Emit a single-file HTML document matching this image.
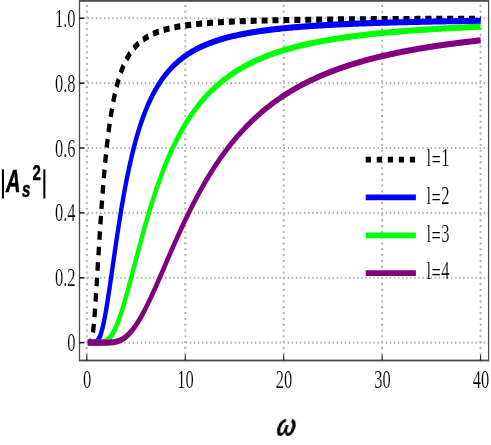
<!DOCTYPE html>
<html><head><meta charset="utf-8"><title>plot</title>
<style>html,body{margin:0;padding:0;background:#fff;}body{width:491px;height:445px;overflow:hidden;}svg{display:block;}text{font-family:"Liberation Serif",serif;fill:#000;}.sb{font-family:"Liberation Sans",sans-serif;font-weight:bold;}.sbi{font-family:"Liberation Sans",sans-serif;font-weight:bold;font-style:italic;}</style></head><body>
<svg width="491" height="445" viewBox="0 0 491 445">
<defs><filter id="ga" x="-0.05" y="-0.05" width="1.1" height="1.1" filterUnits="objectBoundingBox"><feOffset dx="0" dy="0"/></filter></defs>
<rect x="0" y="0" width="491" height="445" fill="#fff"/>
<g transform="scale(1,1.4200)">
<g stroke="#b3b3b3" stroke-dasharray="1.450 2.632" fill="none"><g stroke-width="2.00" stroke-dashoffset="0.00"><line x1="86.85" y1="253.87" x2="86.85" y2="0.60"/><line x1="185.29" y1="253.87" x2="185.29" y2="0.60"/><line x1="283.73" y1="253.87" x2="283.73" y2="0.60"/><line x1="382.16" y1="253.87" x2="382.16" y2="0.60"/><line x1="480.60" y1="253.87" x2="480.60" y2="0.60"/></g><g stroke-width="1.45" stroke-dashoffset="0.00"><line x1="79.50" y1="241.30" x2="488.60" y2="241.30"/><line x1="79.50" y1="195.62" x2="488.60" y2="195.62"/><line x1="79.50" y1="149.93" x2="488.60" y2="149.93"/><line x1="79.50" y1="104.24" x2="488.60" y2="104.24"/><line x1="79.50" y1="58.55" x2="488.60" y2="58.55"/><line x1="79.50" y1="12.87" x2="488.60" y2="12.87"/></g></g>
<path d="M87.83 241.30 L88.82 241.30 L89.80 241.26 L90.78 240.81 L91.76 239.08 L92.74 235.29 L93.73 229.17 L94.71 220.95 L95.69 211.12 L96.67 200.27 L97.65 188.94 L98.64 177.56 L99.62 166.43 L100.60 155.77 L101.58 145.71 L102.56 136.30 L103.54 127.58 L104.53 119.53 L105.51 112.12 L106.49 105.33 L107.47 99.10 L108.45 93.40 L109.44 88.18 L110.42 83.39 L111.40 79.00 L112.38 74.98 L113.36 71.28 L114.35 67.88 L115.33 64.74 L116.31 61.85 L117.29 59.18 L118.27 56.71 L119.26 54.43 L120.24 52.30 L121.22 50.34 L122.20 48.50 L123.18 46.80 L124.17 45.21 L125.15 43.72 L126.13 42.33 L127.11 41.03 L128.09 39.81 L129.07 38.67 L130.06 37.60 L131.04 36.59 L132.02 35.64 L133.00 34.74 L133.98 33.89 L134.97 33.10 L135.95 32.34 L136.93 31.63 L137.91 30.95 L138.89 30.31 L139.88 29.70 L140.86 29.12 L141.84 28.58 L142.82 28.05 L143.80 27.56 L144.79 27.08 L145.77 26.63 L146.75 26.20 L147.73 25.79 L148.71 25.40 L149.69 25.03 L150.68 24.67 L151.66 24.33 L152.64 24.00 L153.62 23.68 L154.60 23.38 L155.59 23.09 L156.57 22.81 L157.55 22.55 L158.53 22.29 L159.51 22.05 L160.50 21.81 L161.48 21.58 L162.46 21.36 L163.44 21.15 L164.42 20.95 L165.41 20.75 L166.39 20.56 L167.37 20.38 L168.35 20.20 L169.33 20.03 L170.32 19.87 L171.30 19.71 L172.28 19.56 L173.26 19.41 L174.24 19.27 L175.22 19.13 L176.21 18.99 L177.19 18.86 L178.17 18.74 L179.15 18.61 L180.13 18.50 L181.12 18.38 L182.10 18.27 L183.08 18.16 L184.06 18.06 L185.04 17.95 L186.03 17.86 L187.01 17.76 L187.99 17.67 L188.97 17.58 L189.95 17.49 L190.94 17.40 L191.92 17.32 L192.90 17.24 L193.88 17.16 L194.86 17.08 L195.84 17.01 L196.83 16.94 L197.81 16.86 L198.79 16.80 L199.77 16.73 L200.75 16.66 L201.74 16.60 L202.72 16.54 L203.70 16.48 L204.68 16.42 L205.66 16.36 L206.65 16.30 L207.63 16.25 L208.61 16.19 L209.59 16.14 L210.57 16.09 L211.56 16.04 L212.54 15.99 L213.52 15.94 L214.50 15.90 L215.48 15.85 L216.47 15.81 L217.45 15.76 L218.43 15.72 L219.41 15.68 L220.39 15.64 L221.37 15.60 L222.36 15.56 L223.34 15.52 L224.32 15.48 L225.30 15.44 L226.28 15.41 L227.27 15.37 L228.25 15.34 L229.23 15.31 L230.21 15.27 L231.19 15.24 L232.18 15.21 L233.16 15.18 L234.14 15.15 L235.12 15.12 L236.10 15.09 L237.09 15.06 L238.07 15.03 L239.05 15.00 L240.03 14.98 L241.01 14.95 L241.99 14.92 L242.98 14.90 L243.96 14.87 L244.94 14.85 L245.92 14.82 L246.90 14.80 L247.89 14.78 L248.87 14.75 L249.85 14.73 L250.83 14.71 L251.81 14.69 L252.80 14.67 L253.78 14.64 L254.76 14.62 L255.74 14.60 L256.72 14.58 L257.71 14.56 L258.69 14.54 L259.67 14.53 L260.65 14.51 L261.63 14.49 L262.62 14.47 L263.60 14.45 L264.58 14.44 L265.56 14.42 L266.54 14.40 L267.52 14.39 L268.51 14.37 L269.49 14.35 L270.47 14.34 L271.45 14.32 L272.43 14.31 L273.42 14.29 L274.40 14.28 L275.38 14.26 L276.36 14.25 L277.34 14.23 L278.33 14.22 L279.31 14.21 L280.29 14.19 L281.27 14.18 L282.25 14.17 L283.24 14.15 L284.22 14.14 L285.20 14.13 L286.18 14.12 L287.16 14.10 L288.14 14.09 L289.13 14.08 L290.11 14.07 L291.09 14.06 L292.07 14.04 L293.05 14.03 L294.04 14.02 L295.02 14.01 L296.00 14.00 L296.98 13.99 L297.96 13.98 L298.95 13.97 L299.93 13.96 L300.91 13.95 L301.89 13.94 L302.87 13.93 L303.86 13.92 L304.84 13.91 L305.82 13.90 L306.80 13.89 L307.78 13.88 L308.77 13.87 L309.75 13.87 L310.73 13.86 L311.71 13.85 L312.69 13.84 L313.67 13.83 L314.66 13.82 L315.64 13.82 L316.62 13.81 L317.60 13.80 L318.58 13.79 L319.57 13.78 L320.55 13.78 L321.53 13.77 L322.51 13.76 L323.49 13.75 L324.48 13.75 L325.46 13.74 L326.44 13.73 L327.42 13.72 L328.40 13.72 L329.39 13.71 L330.37 13.70 L331.35 13.70 L332.33 13.69 L333.31 13.68 L334.29 13.68 L335.28 13.67 L336.26 13.66 L337.24 13.66 L338.22 13.65 L339.20 13.65 L340.19 13.64 L341.17 13.63 L342.15 13.63 L343.13 13.62 L344.11 13.62 L345.10 13.61 L346.08 13.61 L347.06 13.60 L348.04 13.59 L349.02 13.59 L350.01 13.58 L350.99 13.58 L351.97 13.57 L352.95 13.57 L353.93 13.56 L354.91 13.56 L355.90 13.55 L356.88 13.55 L357.86 13.54 L358.84 13.54 L359.82 13.53 L360.81 13.53 L361.79 13.52 L362.77 13.52 L363.75 13.51 L364.73 13.51 L365.72 13.51 L366.70 13.50 L367.68 13.50 L368.66 13.49 L369.64 13.49 L370.63 13.48 L371.61 13.48 L372.59 13.48 L373.57 13.47 L374.55 13.47 L375.54 13.46 L376.52 13.46 L377.50 13.45 L378.48 13.45 L379.46 13.45 L380.44 13.44 L381.43 13.44 L382.41 13.44 L383.39 13.43 L384.37 13.43 L385.35 13.42 L386.34 13.42 L387.32 13.42 L388.30 13.41 L389.28 13.41 L390.26 13.41 L391.25 13.40 L392.23 13.40 L393.21 13.40 L394.19 13.39 L395.17 13.39 L396.16 13.39 L397.14 13.38 L398.12 13.38 L399.10 13.38 L400.08 13.37 L401.06 13.37 L402.05 13.37 L403.03 13.36 L404.01 13.36 L404.99 13.36 L405.97 13.35 L406.96 13.35 L407.94 13.35 L408.92 13.35 L409.90 13.34 L410.88 13.34 L411.87 13.34 L412.85 13.33 L413.83 13.33 L414.81 13.33 L415.79 13.33 L416.78 13.32 L417.76 13.32 L418.74 13.32 L419.72 13.32 L420.70 13.31 L421.69 13.31 L422.67 13.31 L423.65 13.30 L424.63 13.30 L425.61 13.30 L426.59 13.30 L427.58 13.29 L428.56 13.29 L429.54 13.29 L430.52 13.29 L431.50 13.28 L432.49 13.28 L433.47 13.28 L434.45 13.28 L435.43 13.28 L436.41 13.27 L437.40 13.27 L438.38 13.27 L439.36 13.27 L440.34 13.26 L441.32 13.26 L442.31 13.26 L443.29 13.26 L444.27 13.26 L445.25 13.25 L446.23 13.25 L447.21 13.25 L448.20 13.25 L449.18 13.25 L450.16 13.24 L451.14 13.24 L452.12 13.24 L453.11 13.24 L454.09 13.24 L455.07 13.23 L456.05 13.23 L457.03 13.23 L458.02 13.23 L459.00 13.23 L459.98 13.22 L460.96 13.22 L461.94 13.22 L462.93 13.22 L463.91 13.22 L464.89 13.21 L465.87 13.21 L466.85 13.21 L467.84 13.21 L468.82 13.21 L469.80 13.21 L470.78 13.20 L471.76 13.20 L472.74 13.20 L473.73 13.20 L474.71 13.20 L475.69 13.20 L476.67 13.19 L477.65 13.19 L478.64 13.19 L479.62 13.19 L480.60 13.19" fill="none" stroke="#000000" stroke-width="4.30" stroke-linejoin="round" stroke-dasharray="6.000 4.920" stroke-dashoffset="0.750"/>
<path d="M87.83 241.30 L88.82 241.30 L89.80 241.30 L90.78 241.30 L91.76 241.30 L92.74 241.30 L93.73 241.27 L94.71 241.18 L95.69 240.97 L96.67 240.56 L97.65 239.89 L98.64 238.89 L99.62 237.50 L100.60 235.71 L101.58 233.49 L102.56 230.86 L103.54 227.82 L104.53 224.43 L105.51 220.71 L106.49 216.70 L107.47 212.45 L108.45 208.01 L109.44 203.42 L110.42 198.71 L111.40 193.94 L112.38 189.12 L113.36 184.30 L114.35 179.49 L115.33 174.72 L116.31 170.01 L117.29 165.37 L118.27 160.82 L119.26 156.37 L120.24 152.03 L121.22 147.79 L122.20 143.68 L123.18 139.68 L124.17 135.81 L125.15 132.05 L126.13 128.42 L127.11 124.91 L128.09 121.52 L129.07 118.24 L130.06 115.08 L131.04 112.03 L132.02 109.09 L133.00 106.26 L133.98 103.53 L134.97 100.90 L135.95 98.36 L136.93 95.92 L137.91 93.56 L138.89 91.29 L139.88 89.11 L140.86 87.00 L141.84 84.97 L142.82 83.01 L143.80 81.13 L144.79 79.31 L145.77 77.55 L146.75 75.86 L147.73 74.23 L148.71 72.65 L149.69 71.13 L150.68 69.67 L151.66 68.25 L152.64 66.88 L153.62 65.56 L154.60 64.28 L155.59 63.05 L156.57 61.85 L157.55 60.70 L158.53 59.58 L159.51 58.51 L160.50 57.46 L161.48 56.45 L162.46 55.47 L163.44 54.52 L164.42 53.60 L165.41 52.71 L166.39 51.85 L167.37 51.02 L168.35 50.20 L169.33 49.42 L170.32 48.66 L171.30 47.92 L172.28 47.20 L173.26 46.50 L174.24 45.82 L175.22 45.17 L176.21 44.53 L177.19 43.91 L178.17 43.30 L179.15 42.72 L180.13 42.15 L181.12 41.59 L182.10 41.05 L183.08 40.53 L184.06 40.02 L185.04 39.52 L186.03 39.04 L187.01 38.56 L187.99 38.10 L188.97 37.66 L189.95 37.22 L190.94 36.80 L191.92 36.38 L192.90 35.98 L193.88 35.59 L194.86 35.20 L195.84 34.83 L196.83 34.46 L197.81 34.11 L198.79 33.76 L199.77 33.42 L200.75 33.09 L201.74 32.76 L202.72 32.45 L203.70 32.14 L204.68 31.84 L205.66 31.54 L206.65 31.25 L207.63 30.97 L208.61 30.70 L209.59 30.43 L210.57 30.16 L211.56 29.91 L212.54 29.65 L213.52 29.41 L214.50 29.17 L215.48 28.93 L216.47 28.70 L217.45 28.47 L218.43 28.25 L219.41 28.03 L220.39 27.82 L221.37 27.61 L222.36 27.41 L223.34 27.21 L224.32 27.01 L225.30 26.82 L226.28 26.63 L227.27 26.45 L228.25 26.27 L229.23 26.09 L230.21 25.92 L231.19 25.75 L232.18 25.58 L233.16 25.42 L234.14 25.26 L235.12 25.10 L236.10 24.94 L237.09 24.79 L238.07 24.64 L239.05 24.50 L240.03 24.35 L241.01 24.21 L241.99 24.07 L242.98 23.94 L243.96 23.81 L244.94 23.67 L245.92 23.55 L246.90 23.42 L247.89 23.29 L248.87 23.17 L249.85 23.05 L250.83 22.93 L251.81 22.82 L252.80 22.70 L253.78 22.59 L254.76 22.48 L255.74 22.37 L256.72 22.27 L257.71 22.16 L258.69 22.06 L259.67 21.96 L260.65 21.86 L261.63 21.76 L262.62 21.66 L263.60 21.57 L264.58 21.47 L265.56 21.38 L266.54 21.29 L267.52 21.20 L268.51 21.12 L269.49 21.03 L270.47 20.94 L271.45 20.86 L272.43 20.78 L273.42 20.70 L274.40 20.62 L275.38 20.54 L276.36 20.46 L277.34 20.38 L278.33 20.31 L279.31 20.24 L280.29 20.16 L281.27 20.09 L282.25 20.02 L283.24 19.95 L284.22 19.88 L285.20 19.81 L286.18 19.75 L287.16 19.68 L288.14 19.61 L289.13 19.55 L290.11 19.49 L291.09 19.43 L292.07 19.36 L293.05 19.30 L294.04 19.24 L295.02 19.18 L296.00 19.13 L296.98 19.07 L297.96 19.01 L298.95 18.96 L299.93 18.90 L300.91 18.85 L301.89 18.79 L302.87 18.74 L303.86 18.69 L304.84 18.64 L305.82 18.59 L306.80 18.54 L307.78 18.49 L308.77 18.44 L309.75 18.39 L310.73 18.34 L311.71 18.30 L312.69 18.25 L313.67 18.20 L314.66 18.16 L315.64 18.11 L316.62 18.07 L317.60 18.03 L318.58 17.98 L319.57 17.94 L320.55 17.90 L321.53 17.86 L322.51 17.82 L323.49 17.78 L324.48 17.74 L325.46 17.70 L326.44 17.66 L327.42 17.62 L328.40 17.58 L329.39 17.54 L330.37 17.51 L331.35 17.47 L332.33 17.43 L333.31 17.40 L334.29 17.36 L335.28 17.33 L336.26 17.29 L337.24 17.26 L338.22 17.22 L339.20 17.19 L340.19 17.16 L341.17 17.13 L342.15 17.09 L343.13 17.06 L344.11 17.03 L345.10 17.00 L346.08 16.97 L347.06 16.94 L348.04 16.91 L349.02 16.88 L350.01 16.85 L350.99 16.82 L351.97 16.79 L352.95 16.76 L353.93 16.73 L354.91 16.70 L355.90 16.68 L356.88 16.65 L357.86 16.62 L358.84 16.60 L359.82 16.57 L360.81 16.54 L361.79 16.52 L362.77 16.49 L363.75 16.47 L364.73 16.44 L365.72 16.42 L366.70 16.39 L367.68 16.37 L368.66 16.34 L369.64 16.32 L370.63 16.30 L371.61 16.27 L372.59 16.25 L373.57 16.23 L374.55 16.20 L375.54 16.18 L376.52 16.16 L377.50 16.14 L378.48 16.12 L379.46 16.09 L380.44 16.07 L381.43 16.05 L382.41 16.03 L383.39 16.01 L384.37 15.99 L385.35 15.97 L386.34 15.95 L387.32 15.93 L388.30 15.91 L389.28 15.89 L390.26 15.87 L391.25 15.85 L392.23 15.83 L393.21 15.81 L394.19 15.79 L395.17 15.78 L396.16 15.76 L397.14 15.74 L398.12 15.72 L399.10 15.70 L400.08 15.69 L401.06 15.67 L402.05 15.65 L403.03 15.63 L404.01 15.62 L404.99 15.60 L405.97 15.58 L406.96 15.57 L407.94 15.55 L408.92 15.53 L409.90 15.52 L410.88 15.50 L411.87 15.49 L412.85 15.47 L413.83 15.46 L414.81 15.44 L415.79 15.43 L416.78 15.41 L417.76 15.39 L418.74 15.38 L419.72 15.37 L420.70 15.35 L421.69 15.34 L422.67 15.32 L423.65 15.31 L424.63 15.29 L425.61 15.28 L426.59 15.27 L427.58 15.25 L428.56 15.24 L429.54 15.23 L430.52 15.21 L431.50 15.20 L432.49 15.19 L433.47 15.17 L434.45 15.16 L435.43 15.15 L436.41 15.13 L437.40 15.12 L438.38 15.11 L439.36 15.10 L440.34 15.08 L441.32 15.07 L442.31 15.06 L443.29 15.05 L444.27 15.04 L445.25 15.02 L446.23 15.01 L447.21 15.00 L448.20 14.99 L449.18 14.98 L450.16 14.97 L451.14 14.96 L452.12 14.94 L453.11 14.93 L454.09 14.92 L455.07 14.91 L456.05 14.90 L457.03 14.89 L458.02 14.88 L459.00 14.87 L459.98 14.86 L460.96 14.85 L461.94 14.84 L462.93 14.83 L463.91 14.82 L464.89 14.81 L465.87 14.80 L466.85 14.79 L467.84 14.78 L468.82 14.77 L469.80 14.76 L470.78 14.75 L471.76 14.74 L472.74 14.73 L473.73 14.72 L474.71 14.71 L475.69 14.70 L476.67 14.69 L477.65 14.68 L478.64 14.67 L479.62 14.66 L480.60 14.66" fill="none" stroke="#0000ff" stroke-width="4.30" stroke-linejoin="round"/>
<path d="M87.83 241.30 L88.82 241.30 L89.80 241.30 L90.78 241.30 L91.76 241.30 L92.74 241.30 L93.73 241.30 L94.71 241.30 L95.69 241.30 L96.67 241.30 L97.65 241.30 L98.64 241.29 L99.62 241.26 L100.60 241.22 L101.58 241.15 L102.56 241.04 L103.54 240.87 L104.53 240.65 L105.51 240.34 L106.49 239.95 L107.47 239.47 L108.45 238.87 L109.44 238.16 L110.42 237.33 L111.40 236.38 L112.38 235.30 L113.36 234.10 L114.35 232.76 L115.33 231.31 L116.31 229.74 L117.29 228.05 L118.27 226.25 L119.26 224.35 L120.24 222.35 L121.22 220.26 L122.20 218.09 L123.18 215.84 L124.17 213.52 L125.15 211.14 L126.13 208.71 L127.11 206.23 L128.09 203.71 L129.07 201.15 L130.06 198.57 L131.04 195.97 L132.02 193.35 L133.00 190.72 L133.98 188.09 L134.97 185.45 L135.95 182.82 L136.93 180.19 L137.91 177.58 L138.89 174.98 L139.88 172.40 L140.86 169.83 L141.84 167.29 L142.82 164.78 L143.80 162.29 L144.79 159.83 L145.77 157.39 L146.75 154.99 L147.73 152.63 L148.71 150.29 L149.69 147.99 L150.68 145.73 L151.66 143.49 L152.64 141.30 L153.62 139.14 L154.60 137.02 L155.59 134.93 L156.57 132.88 L157.55 130.87 L158.53 128.89 L159.51 126.95 L160.50 125.05 L161.48 123.18 L162.46 121.34 L163.44 119.54 L164.42 117.78 L165.41 116.05 L166.39 114.35 L167.37 112.68 L168.35 111.05 L169.33 109.45 L170.32 107.89 L171.30 106.35 L172.28 104.84 L173.26 103.37 L174.24 101.92 L175.22 100.50 L176.21 99.12 L177.19 97.75 L178.17 96.42 L179.15 95.11 L180.13 93.83 L181.12 92.58 L182.10 91.35 L183.08 90.14 L184.06 88.96 L185.04 87.80 L186.03 86.67 L187.01 85.56 L187.99 84.47 L188.97 83.40 L189.95 82.35 L190.94 81.33 L191.92 80.32 L192.90 79.34 L193.88 78.37 L194.86 77.42 L195.84 76.49 L196.83 75.58 L197.81 74.69 L198.79 73.81 L199.77 72.95 L200.75 72.11 L201.74 71.28 L202.72 70.47 L203.70 69.68 L204.68 68.90 L205.66 68.13 L206.65 67.38 L207.63 66.65 L208.61 65.92 L209.59 65.21 L210.57 64.52 L211.56 63.83 L212.54 63.16 L213.52 62.50 L214.50 61.86 L215.48 61.22 L216.47 60.60 L217.45 59.99 L218.43 59.38 L219.41 58.79 L220.39 58.21 L221.37 57.64 L222.36 57.08 L223.34 56.53 L224.32 55.99 L225.30 55.46 L226.28 54.94 L227.27 54.43 L228.25 53.93 L229.23 53.43 L230.21 52.94 L231.19 52.47 L232.18 52.00 L233.16 51.53 L234.14 51.08 L235.12 50.63 L236.10 50.19 L237.09 49.76 L238.07 49.34 L239.05 48.92 L240.03 48.51 L241.01 48.10 L241.99 47.70 L242.98 47.31 L243.96 46.93 L244.94 46.55 L245.92 46.18 L246.90 45.81 L247.89 45.45 L248.87 45.09 L249.85 44.74 L250.83 44.40 L251.81 44.06 L252.80 43.72 L253.78 43.40 L254.76 43.07 L255.74 42.75 L256.72 42.44 L257.71 42.13 L258.69 41.83 L259.67 41.53 L260.65 41.23 L261.63 40.94 L262.62 40.65 L263.60 40.37 L264.58 40.09 L265.56 39.82 L266.54 39.55 L267.52 39.28 L268.51 39.02 L269.49 38.76 L270.47 38.50 L271.45 38.25 L272.43 38.00 L273.42 37.76 L274.40 37.52 L275.38 37.28 L276.36 37.05 L277.34 36.82 L278.33 36.59 L279.31 36.36 L280.29 36.14 L281.27 35.92 L282.25 35.71 L283.24 35.50 L284.22 35.29 L285.20 35.08 L286.18 34.88 L287.16 34.68 L288.14 34.48 L289.13 34.28 L290.11 34.09 L291.09 33.90 L292.07 33.71 L293.05 33.52 L294.04 33.34 L295.02 33.16 L296.00 32.98 L296.98 32.80 L297.96 32.63 L298.95 32.46 L299.93 32.29 L300.91 32.12 L301.89 31.95 L302.87 31.79 L303.86 31.63 L304.84 31.47 L305.82 31.31 L306.80 31.16 L307.78 31.00 L308.77 30.85 L309.75 30.70 L310.73 30.55 L311.71 30.41 L312.69 30.26 L313.67 30.12 L314.66 29.98 L315.64 29.84 L316.62 29.70 L317.60 29.57 L318.58 29.43 L319.57 29.30 L320.55 29.17 L321.53 29.04 L322.51 28.91 L323.49 28.79 L324.48 28.66 L325.46 28.54 L326.44 28.41 L327.42 28.29 L328.40 28.17 L329.39 28.06 L330.37 27.94 L331.35 27.82 L332.33 27.71 L333.31 27.60 L334.29 27.48 L335.28 27.37 L336.26 27.26 L337.24 27.16 L338.22 27.05 L339.20 26.94 L340.19 26.84 L341.17 26.74 L342.15 26.63 L343.13 26.53 L344.11 26.43 L345.10 26.33 L346.08 26.24 L347.06 26.14 L348.04 26.04 L349.02 25.95 L350.01 25.86 L350.99 25.76 L351.97 25.67 L352.95 25.58 L353.93 25.49 L354.91 25.40 L355.90 25.31 L356.88 25.23 L357.86 25.14 L358.84 25.06 L359.82 24.97 L360.81 24.89 L361.79 24.80 L362.77 24.72 L363.75 24.64 L364.73 24.56 L365.72 24.48 L366.70 24.40 L367.68 24.33 L368.66 24.25 L369.64 24.17 L370.63 24.10 L371.61 24.02 L372.59 23.95 L373.57 23.88 L374.55 23.80 L375.54 23.73 L376.52 23.66 L377.50 23.59 L378.48 23.52 L379.46 23.45 L380.44 23.38 L381.43 23.31 L382.41 23.25 L383.39 23.18 L384.37 23.11 L385.35 23.05 L386.34 22.98 L387.32 22.92 L388.30 22.86 L389.28 22.79 L390.26 22.73 L391.25 22.67 L392.23 22.61 L393.21 22.55 L394.19 22.49 L395.17 22.43 L396.16 22.37 L397.14 22.31 L398.12 22.25 L399.10 22.20 L400.08 22.14 L401.06 22.08 L402.05 22.03 L403.03 21.97 L404.01 21.92 L404.99 21.86 L405.97 21.81 L406.96 21.76 L407.94 21.70 L408.92 21.65 L409.90 21.60 L410.88 21.55 L411.87 21.50 L412.85 21.45 L413.83 21.39 L414.81 21.35 L415.79 21.30 L416.78 21.25 L417.76 21.20 L418.74 21.15 L419.72 21.10 L420.70 21.06 L421.69 21.01 L422.67 20.96 L423.65 20.92 L424.63 20.87 L425.61 20.83 L426.59 20.78 L427.58 20.74 L428.56 20.69 L429.54 20.65 L430.52 20.60 L431.50 20.56 L432.49 20.52 L433.47 20.48 L434.45 20.43 L435.43 20.39 L436.41 20.35 L437.40 20.31 L438.38 20.27 L439.36 20.23 L440.34 20.19 L441.32 20.15 L442.31 20.11 L443.29 20.07 L444.27 20.03 L445.25 19.99 L446.23 19.96 L447.21 19.92 L448.20 19.88 L449.18 19.84 L450.16 19.81 L451.14 19.77 L452.12 19.73 L453.11 19.70 L454.09 19.66 L455.07 19.63 L456.05 19.59 L457.03 19.56 L458.02 19.52 L459.00 19.49 L459.98 19.45 L460.96 19.42 L461.94 19.39 L462.93 19.35 L463.91 19.32 L464.89 19.29 L465.87 19.25 L466.85 19.22 L467.84 19.19 L468.82 19.16 L469.80 19.13 L470.78 19.10 L471.76 19.06 L472.74 19.03 L473.73 19.00 L474.71 18.97 L475.69 18.94 L476.67 18.91 L477.65 18.88 L478.64 18.85 L479.62 18.82 L480.60 18.79" fill="none" stroke="#00ff00" stroke-width="4.30" stroke-linejoin="round"/>
<path d="M87.83 241.30 L88.82 241.30 L89.80 241.30 L90.78 241.30 L91.76 241.30 L92.74 241.30 L93.73 241.30 L94.71 241.30 L95.69 241.30 L96.67 241.30 L97.65 241.30 L98.64 241.30 L99.62 241.30 L100.60 241.30 L101.58 241.30 L102.56 241.30 L103.54 241.30 L104.53 241.30 L105.51 241.29 L106.49 241.28 L107.47 241.27 L108.45 241.25 L109.44 241.22 L110.42 241.18 L111.40 241.13 L112.38 241.06 L113.36 240.97 L114.35 240.87 L115.33 240.74 L116.31 240.58 L117.29 240.39 L118.27 240.17 L119.26 239.92 L120.24 239.63 L121.22 239.30 L122.20 238.93 L123.18 238.52 L124.17 238.06 L125.15 237.56 L126.13 237.02 L127.11 236.43 L128.09 235.79 L129.07 235.10 L130.06 234.37 L131.04 233.60 L132.02 232.77 L133.00 231.90 L133.98 230.99 L134.97 230.03 L135.95 229.03 L136.93 227.98 L137.91 226.90 L138.89 225.78 L139.88 224.61 L140.86 223.42 L141.84 222.18 L142.82 220.92 L143.80 219.62 L144.79 218.29 L145.77 216.94 L146.75 215.55 L147.73 214.15 L148.71 212.71 L149.69 211.26 L150.68 209.79 L151.66 208.30 L152.64 206.79 L153.62 205.26 L154.60 203.73 L155.59 202.17 L156.57 200.61 L157.55 199.04 L158.53 197.46 L159.51 195.87 L160.50 194.28 L161.48 192.68 L162.46 191.08 L163.44 189.48 L164.42 187.88 L165.41 186.27 L166.39 184.67 L167.37 183.07 L168.35 181.47 L169.33 179.87 L170.32 178.28 L171.30 176.69 L172.28 175.11 L173.26 173.54 L174.24 171.97 L175.22 170.41 L176.21 168.86 L177.19 167.31 L178.17 165.78 L179.15 164.25 L180.13 162.74 L181.12 161.24 L182.10 159.74 L183.08 158.26 L184.06 156.79 L185.04 155.33 L186.03 153.88 L187.01 152.44 L187.99 151.02 L188.97 149.61 L189.95 148.21 L190.94 146.83 L191.92 145.45 L192.90 144.10 L193.88 142.75 L194.86 141.42 L195.84 140.10 L196.83 138.79 L197.81 137.50 L198.79 136.22 L199.77 134.95 L200.75 133.70 L201.74 132.46 L202.72 131.24 L203.70 130.03 L204.68 128.83 L205.66 127.64 L206.65 126.47 L207.63 125.31 L208.61 124.17 L209.59 123.04 L210.57 121.92 L211.56 120.81 L212.54 119.72 L213.52 118.64 L214.50 117.57 L215.48 116.51 L216.47 115.47 L217.45 114.44 L218.43 113.42 L219.41 112.42 L220.39 111.42 L221.37 110.44 L222.36 109.47 L223.34 108.52 L224.32 107.57 L225.30 106.63 L226.28 105.71 L227.27 104.80 L228.25 103.90 L229.23 103.01 L230.21 102.13 L231.19 101.26 L232.18 100.40 L233.16 99.55 L234.14 98.72 L235.12 97.89 L236.10 97.07 L237.09 96.27 L238.07 95.47 L239.05 94.68 L240.03 93.91 L241.01 93.14 L241.99 92.38 L242.98 91.63 L243.96 90.89 L244.94 90.16 L245.92 89.44 L246.90 88.72 L247.89 88.02 L248.87 87.32 L249.85 86.64 L250.83 85.96 L251.81 85.29 L252.80 84.63 L253.78 83.97 L254.76 83.33 L255.74 82.69 L256.72 82.06 L257.71 81.43 L258.69 80.82 L259.67 80.21 L260.65 79.61 L261.63 79.01 L262.62 78.43 L263.60 77.85 L264.58 77.27 L265.56 76.71 L266.54 76.15 L267.52 75.60 L268.51 75.05 L269.49 74.51 L270.47 73.98 L271.45 73.45 L272.43 72.93 L273.42 72.42 L274.40 71.91 L275.38 71.41 L276.36 70.91 L277.34 70.42 L278.33 69.93 L279.31 69.45 L280.29 68.98 L281.27 68.51 L282.25 68.05 L283.24 67.59 L284.22 67.14 L285.20 66.69 L286.18 66.25 L287.16 65.81 L288.14 65.38 L289.13 64.95 L290.11 64.53 L291.09 64.11 L292.07 63.70 L293.05 63.29 L294.04 62.89 L295.02 62.49 L296.00 62.09 L296.98 61.70 L297.96 61.31 L298.95 60.93 L299.93 60.56 L300.91 60.18 L301.89 59.81 L302.87 59.45 L303.86 59.09 L304.84 58.73 L305.82 58.37 L306.80 58.03 L307.78 57.68 L308.77 57.34 L309.75 57.00 L310.73 56.66 L311.71 56.33 L312.69 56.01 L313.67 55.68 L314.66 55.36 L315.64 55.04 L316.62 54.73 L317.60 54.42 L318.58 54.11 L319.57 53.81 L320.55 53.51 L321.53 53.21 L322.51 52.91 L323.49 52.62 L324.48 52.33 L325.46 52.05 L326.44 51.76 L327.42 51.48 L328.40 51.21 L329.39 50.93 L330.37 50.66 L331.35 50.39 L332.33 50.13 L333.31 49.86 L334.29 49.60 L335.28 49.35 L336.26 49.09 L337.24 48.84 L338.22 48.59 L339.20 48.34 L340.19 48.09 L341.17 47.85 L342.15 47.61 L343.13 47.37 L344.11 47.14 L345.10 46.90 L346.08 46.67 L347.06 46.44 L348.04 46.22 L349.02 45.99 L350.01 45.77 L350.99 45.55 L351.97 45.33 L352.95 45.12 L353.93 44.90 L354.91 44.69 L355.90 44.48 L356.88 44.27 L357.86 44.07 L358.84 43.86 L359.82 43.66 L360.81 43.46 L361.79 43.26 L362.77 43.07 L363.75 42.87 L364.73 42.68 L365.72 42.49 L366.70 42.30 L367.68 42.11 L368.66 41.92 L369.64 41.74 L370.63 41.56 L371.61 41.38 L372.59 41.20 L373.57 41.02 L374.55 40.85 L375.54 40.67 L376.52 40.50 L377.50 40.33 L378.48 40.16 L379.46 39.99 L380.44 39.82 L381.43 39.66 L382.41 39.50 L383.39 39.33 L384.37 39.17 L385.35 39.01 L386.34 38.86 L387.32 38.70 L388.30 38.54 L389.28 38.39 L390.26 38.24 L391.25 38.09 L392.23 37.94 L393.21 37.79 L394.19 37.64 L395.17 37.49 L396.16 37.35 L397.14 37.21 L398.12 37.06 L399.10 36.92 L400.08 36.78 L401.06 36.64 L402.05 36.51 L403.03 36.37 L404.01 36.24 L404.99 36.10 L405.97 35.97 L406.96 35.84 L407.94 35.71 L408.92 35.58 L409.90 35.45 L410.88 35.32 L411.87 35.19 L412.85 35.07 L413.83 34.94 L414.81 34.82 L415.79 34.70 L416.78 34.58 L417.76 34.46 L418.74 34.34 L419.72 34.22 L420.70 34.10 L421.69 33.98 L422.67 33.87 L423.65 33.75 L424.63 33.64 L425.61 33.53 L426.59 33.42 L427.58 33.30 L428.56 33.19 L429.54 33.09 L430.52 32.98 L431.50 32.87 L432.49 32.76 L433.47 32.66 L434.45 32.55 L435.43 32.45 L436.41 32.34 L437.40 32.24 L438.38 32.14 L439.36 32.04 L440.34 31.94 L441.32 31.84 L442.31 31.74 L443.29 31.64 L444.27 31.54 L445.25 31.45 L446.23 31.35 L447.21 31.26 L448.20 31.16 L449.18 31.07 L450.16 30.98 L451.14 30.88 L452.12 30.79 L453.11 30.70 L454.09 30.61 L455.07 30.52 L456.05 30.43 L457.03 30.34 L458.02 30.26 L459.00 30.17 L459.98 30.08 L460.96 30.00 L461.94 29.91 L462.93 29.83 L463.91 29.74 L464.89 29.66 L465.87 29.58 L466.85 29.50 L467.84 29.41 L468.82 29.33 L469.80 29.25 L470.78 29.17 L471.76 29.09 L472.74 29.02 L473.73 28.94 L474.71 28.86 L475.69 28.78 L476.67 28.71 L477.65 28.63 L478.64 28.56 L479.62 28.48 L480.60 28.41" fill="none" stroke="#800080" stroke-width="4.30" stroke-linejoin="round"/>
<rect x="79.50" y="0.60" width="409.10" height="253.27" fill="none" stroke="#4c4c4c" stroke-width="1.30"/>
<g stroke="#1c1c1c" stroke-width="1.05"><line x1="86.85" y1="253.87" x2="86.85" y2="249.87"/><line x1="185.29" y1="253.87" x2="185.29" y2="249.87"/><line x1="283.73" y1="253.87" x2="283.73" y2="249.87"/><line x1="382.16" y1="253.87" x2="382.16" y2="249.87"/><line x1="480.60" y1="253.87" x2="480.60" y2="249.87"/><line x1="79.50" y1="241.30" x2="84.10" y2="241.30"/><line x1="79.50" y1="195.62" x2="84.10" y2="195.62"/><line x1="79.50" y1="149.93" x2="84.10" y2="149.93"/><line x1="79.50" y1="104.24" x2="84.10" y2="104.24"/><line x1="79.50" y1="58.55" x2="84.10" y2="58.55"/><line x1="79.50" y1="12.87" x2="84.10" y2="12.87"/></g>
<line x1="365.70" y1="112.39" x2="415.90" y2="112.39" stroke="#000000" stroke-width="4.10" stroke-dasharray="5.200 5.850"/>
<line x1="365.70" y1="139.01" x2="415.90" y2="139.01" stroke="#0000ff" stroke-width="4.10"/>
<line x1="365.70" y1="165.70" x2="415.90" y2="165.70" stroke="#00ff00" stroke-width="4.10"/>
<line x1="365.70" y1="192.32" x2="415.90" y2="192.32" stroke="#800080" stroke-width="4.10"/>
</g>
<g filter="url(#ga)">
<g stroke="#fff" stroke-width="0.12">
<text transform="translate(75.60,351.15) scale(1,1.5000)" font-size="16.50" text-anchor="end">0</text>
<text transform="translate(75.60,286.27) scale(1,1.5000)" font-size="16.50" text-anchor="end">0.2</text>
<text transform="translate(75.60,221.40) scale(1,1.5000)" font-size="16.50" text-anchor="end">0.4</text>
<text transform="translate(75.60,156.52) scale(1,1.5000)" font-size="16.50" text-anchor="end">0.6</text>
<text transform="translate(75.60,91.65) scale(1,1.5000)" font-size="16.50" text-anchor="end">0.8</text>
<text transform="translate(75.60,26.77) scale(1,1.5000)" font-size="16.50" text-anchor="end">1.0</text>
<text transform="translate(87.15,387.80) scale(1,1.5000)" font-size="16.50" text-anchor="middle">0</text>
<text transform="translate(185.59,387.80) scale(1,1.5000)" font-size="16.50" text-anchor="middle">10</text>
<text transform="translate(284.03,387.80) scale(1,1.5000)" font-size="16.50" text-anchor="middle">20</text>
<text transform="translate(382.46,387.80) scale(1,1.5000)" font-size="16.50" text-anchor="middle">30</text>
<text transform="translate(480.90,387.80) scale(1,1.5000)" font-size="16.50" text-anchor="middle">40</text>
<text transform="translate(426.60,165.90) scale(1,1.5000)" font-size="16.50" text-anchor="start" letter-spacing="0.35">l<tspan dy="1.3">=</tspan><tspan dy="-1.3">1</tspan></text>
<text transform="translate(426.60,203.70) scale(1,1.5000)" font-size="16.50" text-anchor="start" letter-spacing="0.35">l<tspan dy="1.3">=</tspan><tspan dy="-1.3">2</tspan></text>
<text transform="translate(426.60,241.60) scale(1,1.5000)" font-size="16.50" text-anchor="start" letter-spacing="0.35">l<tspan dy="1.3">=</tspan><tspan dy="-1.3">3</tspan></text>
<text transform="translate(426.60,279.40) scale(1,1.5000)" font-size="16.50" text-anchor="start" letter-spacing="0.35">l<tspan dy="1.3">=</tspan><tspan dy="-1.3">4</tspan></text>
</g>
<rect x="1.9" y="169.3" width="2.1" height="29.1" fill="#000"/>
<rect x="43.3" y="169.3" width="2.1" height="29.1" fill="#000"/>
<text class="sbi" transform="translate(6.00,191.60) scale(1,1.5300)" font-size="20.00" text-anchor="start" stroke="#000" stroke-width="0.35">A</text>
<text class="sbi" transform="translate(22.00,196.80) scale(1,1.4200)" font-size="15.00" text-anchor="start" stroke="#000" stroke-width="0.35">s</text>
<text class="sb" transform="translate(32.40,179.60) scale(1,1.4900)" font-size="15.00" text-anchor="start" stroke="#000" stroke-width="0.35">2</text>
<text class="sbi" transform="translate(285.00,435.70) skewX(-10.00) scale(1,1.3700)" font-size="23.00" text-anchor="middle">ω</text>
</g>
</svg></body></html>
